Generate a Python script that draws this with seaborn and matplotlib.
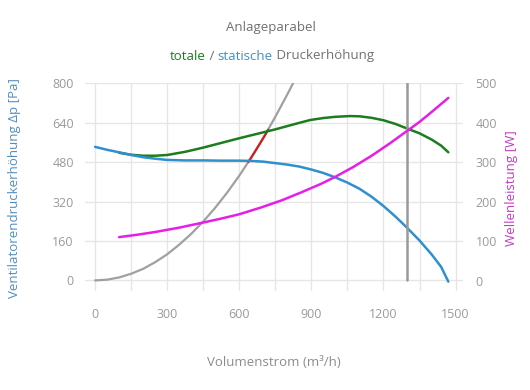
import matplotlib
matplotlib.use("Agg")
import matplotlib.pyplot as plt
import seaborn as sns
import pandas as pd

# static pressure (blue)
flow_static = [0, 50, 100, 150, 200, 250, 300, 375, 450, 525, 600, 650, 700, 750, 800, 850, 900, 950,
               1000, 1050, 1100, 1150, 1200, 1250, 1300, 1350, 1400, 1440, 1470]
p_static = [542, 530, 520, 509, 500, 494, 489, 487, 487, 486, 486, 485, 482, 476, 470, 462, 450, 436,
            418, 397, 372, 340, 302, 259, 212, 162, 106, 55, -5]

# total pressure (green)
flow_total = [100, 150, 200, 250, 300, 375, 450, 525, 600, 675, 750, 825, 895, 950, 1000, 1061, 1100,
              1150, 1200, 1250, 1297, 1350, 1400, 1440, 1470]
p_total = [518, 510, 506, 506, 509, 522, 539, 558, 577, 595, 613, 633, 651, 659, 664, 667, 666,
           660, 650, 635, 617, 597, 572, 547, 520]

# shaft power (magenta, right axis)
flow_power = [100, 175, 250, 350, 450, 525, 600, 690, 780, 860, 940, 1000, 1075, 1150, 1225, 1300,
              1350, 1400, 1470]
power = [110, 116, 123, 134, 147, 157, 168, 185, 204, 224, 245, 263, 288, 316, 347, 380,
         402, 427, 463]

# system curve (grey) and the part between both fan curves (red)
flow_sys = [0, 50, 100, 150, 200, 250, 300, 350, 400, 450, 500, 550, 600, 650, 700, 750, 800, 850]
p_sys = [0, 3, 12, 27, 47, 74, 106, 145, 189, 239, 295, 357, 425, 499, 578, 664, 755, 850]
flow_red = [638, 650, 670, 690, 705, 720]
p_red = [481, 499, 530, 562, 586, 611]

op_flow = 1300

BLUE = "#2f8fcf"
GREEN = "#1c7d1c"
MAGENTA = "#e61ee6"
GREY_TXT = "#8c8c8c"

sns.set_style("white")
plt.rcParams["font.family"] = ["Open Sans", "DejaVu Sans"]

fig = plt.figure(figsize=(5.3, 3.9), dpi=100)
ax = fig.add_axes([85 / 530, 1 - 291 / 390, 378 / 530, 207.7 / 390])
ax2 = ax.twinx()

sns.lineplot(x=flow_sys, y=p_sys, ax=ax, color="#a0a0a0", lw=1.6, sort=False)
sns.lineplot(x=flow_red, y=p_red, ax=ax, color="#cc2020", lw=1.6, sort=False)
sns.lineplot(x=flow_total, y=p_total, ax=ax, color=GREEN, lw=1.8, sort=False)
sns.lineplot(x=flow_static, y=p_static, ax=ax, color=BLUE, lw=1.8, sort=False)
ax.axvline(op_flow, ymin=43 / 843, ymax=1, color="#999999", lw=1.8)
sns.lineplot(x=flow_power, y=power, ax=ax2, color=MAGENTA, lw=1.8, sort=False)

ax.set_xlim(-42, 1531)
ax.set_ylim(-43, 800)
ax2.set_ylim(-26.6, 500)

ax.set_xticks(range(0, 1501, 300))
ax.set_xticks(range(150, 1501, 300), minor=True)
ax.set_yticks(range(0, 801, 160))
ax2.set_yticks(range(0, 501, 100))
ax.grid(True, which="both", color="#e6e6e6", lw=1)
ax.set_axisbelow(True)

for a in (ax, ax2):
    for s in a.spines.values():
        s.set_visible(False)
    a.tick_params(which="both", length=0, labelsize=9, labelcolor="#9a9a9a")
ax.tick_params(axis="y", pad=8)
ax.tick_params(axis="x", pad=12)
ax2.tick_params(axis="y", pad=9)
ax.set_xlabel("")
ax.set_ylabel("")
ax2.set_ylabel("")

fig.text(274 / 530, 1 - 362 / 390, "Volumenstrom (m³/h)", ha="center", va="center",
         fontsize=9.5, color=GREY_TXT)
fig.text(15 / 530, 1 - 188 / 390, "Ventilatorendruckerhöhung Δp [Pa]", rotation=90,
         ha="center", va="center", fontsize=9.5, color="#4f8fbf")
fig.text(511 / 530, 1 - 188 / 390, "Wellenleistung [W]", rotation=90,
         ha="center", va="center", fontsize=9.5, color="#c23cc2")

fig.text(271 / 530, 1 - 27 / 390, "Anlageparabel", ha="center", va="center",
         fontsize=9.5, color="#707070")

# subtitle with coloured words
pieces = [("totale", GREEN), (" / ", "#707070"), ("statische", "#3f8fc8"), (" Druckerhöhung", "#707070")]
renderer = fig.canvas.get_renderer()
texts = [fig.text(0, 1 - 56 / 390, s, color=c, fontsize=9.5, va="center") for s, c in pieces]
widths = [t.get_window_extent(renderer).width for t in texts]
x = 272 - sum(widths) / 2
for t, w in zip(texts, widths):
    t.set_x(x / 530)
    x += w

fig.savefig("out.png", dpi=100)
